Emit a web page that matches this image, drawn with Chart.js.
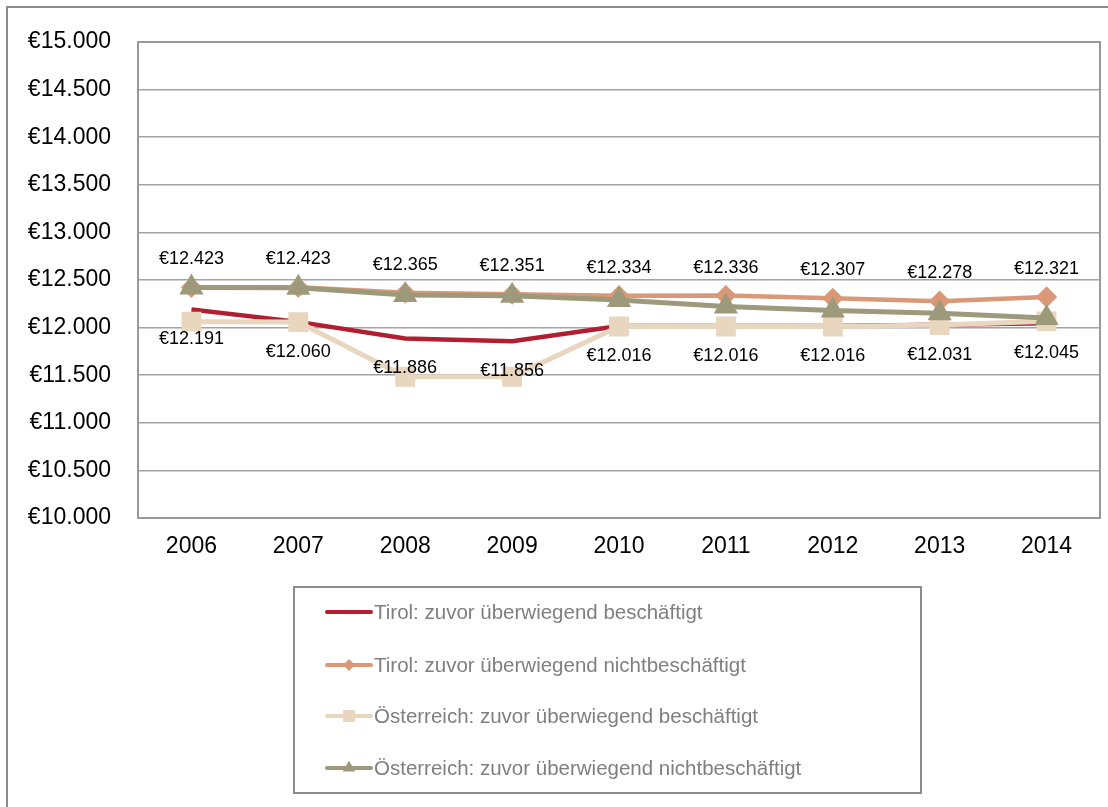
<!DOCTYPE html>
<html>
<head>
<meta charset="utf-8">
<title>Einkommen</title>
<script src="https://cdn.jsdelivr.net/npm/chart.js@4.4.1/dist/chart.umd.min.js"></script>
<style>
  html, body { margin: 0; padding: 0; background: #fff; overflow: hidden; }
  canvas { display: block; }
</style>
</head>
<body>
<canvas id="chart" width="1108" height="807"></canvas>
<script>
const years = ["2006", "2007", "2008", "2009", "2010", "2011", "2012", "2013", "2014"];

const tirolEmployed     = [12191, 12060, 11886, 11856, 12016, 12016, 12016, 12031, 12045];
const tirolNotEmployed  = [12423, 12423, 12365, 12351, 12334, 12336, 12307, 12278, 12321];
const austriaEmployed   = [12062, 12058, 11484, 11484, 12012, 12012, 12012, 12027, 12066];
const austriaNotEmployed = [12420, 12418, 12342, 12335, 12290, 12222, 12180, 12150, 12100];

const seriesNames = [
  "Tirol: zuvor überwiegend beschäftigt",
  "Tirol: zuvor überwiegend nichtbeschäftigt",
  "Österreich: zuvor überwiegend beschäftigt",
  "Österreich: zuvor überwiegend nichtbeschäftigt"
];

const FONT = "'Liberation Sans', Arial, sans-serif";
const GRID = "#a3a3a3";

// 12423 -> "€12.423"
function euro(v) {
  return "€" + String(Math.round(v)).replace(/\B(?=(\d{3})+(?!\d))/g, ".");
}

/* ===== frame: outer border + plot box ===== */
const framePlugin = {
  id: "frame",
  beforeDraw(chart) {
    const ctx = chart.ctx;
    ctx.save();
    ctx.strokeStyle = "#8c8c8c";
    ctx.lineWidth = 2;
    ctx.beginPath();
    ctx.moveTo(7, chart.height + 2);
    ctx.lineTo(7, 7);
    ctx.lineTo(chart.width + 2, 7);
    ctx.stroke();
    ctx.restore();
  },
  beforeDatasetsDraw(chart) {
    const a = chart.chartArea;
    const ctx = chart.ctx;
    ctx.save();
    ctx.strokeStyle = "#999";
    ctx.lineWidth = 2;
    ctx.strokeRect(a.left, a.top, a.right - a.left, a.bottom - a.top);
    ctx.restore();
  }
};

/* ===== value labels (Tirol series only) ===== */
const labelPlugin = {
  id: "valueLabels",
  afterDatasetsDraw(chart) {
    const ctx = chart.ctx;
    ctx.save();
    ctx.font = "18px " + FONT;
    ctx.fillStyle = "#000";
    ctx.textAlign = "center";
    ctx.textBaseline = "middle";
    chart.data.datasets.forEach((ds, i) => {
      if (!ds.labelOffset) return;
      chart.getDatasetMeta(i).data.forEach((pt, j) => {
        ctx.fillText(euro(ds.data[j]), pt.x, pt.y + ds.labelOffset);
      });
    });
    ctx.restore();
  }
};

function marker(ctx, style, x, y, r) {
  ctx.beginPath();
  if (style === "rectRot") {
    ctx.moveTo(x, y - r);
    ctx.lineTo(x + r, y);
    ctx.lineTo(x, y + r);
    ctx.lineTo(x - r, y);
  } else if (style === "rect") {
    const s = r * Math.SQRT1_2;
    ctx.rect(x - s, y - s, 2 * s, 2 * s);
  } else if (style === "triangle") {
    ctx.moveTo(x, y - r);
    ctx.lineTo(x + r * 0.866, y + r / 2);
    ctx.lineTo(x - r * 0.866, y + r / 2);
  }
  ctx.closePath();
  ctx.fill();
}

/* ===== legend box below the plot ===== */
const legendPlugin = {
  id: "boxLegend",
  afterDraw(chart) {
    const ctx = chart.ctx;
    ctx.save();
    ctx.strokeStyle = "#8c8c8c";
    ctx.lineWidth = 2;
    ctx.strokeRect(294, 587, 627, 206);
    ctx.font = "20.5px " + FONT;
    ctx.textBaseline = "middle";
    ctx.textAlign = "left";
    const rows = [612, 665, 716, 768];
    chart.data.datasets.forEach((ds, i) => {
      const y = rows[i];
      ctx.strokeStyle = ds.borderColor;
      ctx.fillStyle = ds.borderColor;
      ctx.lineWidth = 4;
      ctx.lineCap = "round";
      ctx.beginPath();
      ctx.moveTo(327, y);
      ctx.lineTo(371, y);
      ctx.stroke();
      if (ds.pointRadius > 0) marker(ctx, ds.pointStyle, 349, y, ds.pointRadius * 0.8);
      ctx.fillStyle = "#7f7f7f";
      ctx.fillText(ds.label, 374, y + 1);
    });
    ctx.restore();
  }
};

new Chart(document.getElementById("chart"), {
  type: "line",
  data: {
    labels: years,
    datasets: [
      {
        label: seriesNames[0],
        data: tirolEmployed,
        borderColor: "#b01e2f",
        backgroundColor: "#b01e2f",
        borderWidth: 4.5,
        pointRadius: 0,
        labelOffset: 30,
        order: 4
      },
      {
        label: seriesNames[1],
        data: tirolNotEmployed,
        borderColor: "#d99877",
        backgroundColor: "#d99877",
        borderWidth: 4.5,
        pointStyle: "rectRot",
        pointRadius: 7.5,
        labelOffset: -28,
        order: 3
      },
      {
        label: seriesNames[2],
        data: austriaEmployed,
        borderColor: "#e8d6bf",
        backgroundColor: "#e8d6bf",
        borderWidth: 5,
        pointStyle: "rect",
        pointRadius: 10.5,
        order: 2
      },
      {
        label: seriesNames[3],
        data: austriaNotEmployed,
        borderColor: "#9c9a7b",
        backgroundColor: "#9c9a7b",
        borderWidth: 5,
        pointStyle: "triangle",
        pointRadius: 9,
        order: 1
      }
    ]
  },
  options: {
    responsive: false,
    animation: false,
    events: [],
    layout: { autoPadding: false, padding: { top: 42, right: 8, left: 0, bottom: 0 } },
    plugins: {
      legend: { display: false },
      tooltip: { enabled: false }
    },
    elements: {
      line: { tension: 0 },
      point: { borderWidth: 0, hoverRadius: 0 }
    },
    scales: {
      x: {
        offset: true,
        grid: { display: false, drawTicks: false },
        border: { display: false },
        ticks: { color: "#000", font: { family: FONT, size: 23 }, padding: 15, maxRotation: 0 },
        afterFit(scale) {
          scale.height = 289;
          scale.paddingLeft = 0;
          scale.paddingRight = 0;
        }
      },
      y: {
        min: 10000,
        max: 15000,
        grid: { color: GRID, lineWidth: 1.5, drawTicks: false },
        border: { display: false },
        ticks: {
          stepSize: 500,
          color: "#000",
          font: { family: FONT, size: 23 },
          padding: 27,
          callback: v => euro(v)
        },
        afterFit(scale) {
          scale.width = 138;
          scale.paddingTop = 0;
          scale.paddingBottom = 0;
        }
      }
    }
  },
  plugins: [framePlugin, labelPlugin, legendPlugin]
});
</script>
</body>
</html>
